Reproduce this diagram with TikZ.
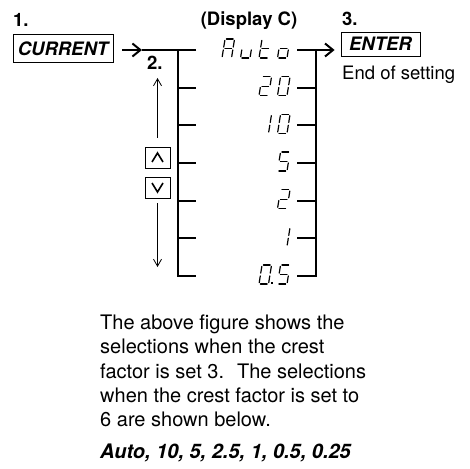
\documentclass[tikz,border=0pt]{standalone}
\usepackage{fontspec}
\setmainfont{TeX Gyre Heros}
\usetikzlibrary{arrows.meta}
\def\gsl{0.16}\def\gw{9.5}\def\gh{19}\def\gm{9.5}
\newcommand\segln[4]{\draw[segstyle] ({\gx+#1+\gsl*#2},{\gy-#2}) -- ({\gx+#3+\gsl*#4},{\gy-#4});}
\newcommand\SgA{\segln{0}{\gh}{\gw}{\gh}}
\newcommand\SgB{\segln{\gw}{\gh}{\gw}{\gm}}
\newcommand\SgC{\segln{\gw}{\gm}{\gw}{0}}
\newcommand\SgD{\segln{0}{0}{\gw}{0}}
\newcommand\SgE{\segln{0}{0}{0}{\gm}}
\newcommand\SgF{\segln{0}{\gm}{0}{\gh}}
\newcommand\SgG{\segln{0}{\gm}{\gw}{\gm}}
\newcommand\glyph[3]{\def\gx{#1}\def\gy{#2}#3}
\newcommand\DigZero{\SgA\SgB\SgC\SgD\SgE\SgF}
\newcommand\DigOne{\SgB\SgC}
\newcommand\DigTwo{\SgA\SgB\SgG\SgE\SgD}
\newcommand\DigFive{\SgA\SgF\SgG\SgC\SgD}
\tikzset{
 lbl/.style={inner sep=0, font=\fontsize{18.5}{22}\selectfont\bfseries},
 keybox/.style={draw, line width=0.8pt, inner sep=0, font=\fontsize{18.5}{22}\selectfont\bfseries\itshape},
 body/.style={inner sep=0, anchor=base west, font=\fontsize{20}{24}\selectfont},
 brk/.style={line width=2.2pt},
 bigarrow/.style={line width=2pt, -{Straight Barb[length=8pt,width=13pt]}},
 thinarrow/.style={line width=0.8pt, -{Straight Barb[length=7pt,width=8pt]}},
 segstyle/.style={line width=1.2pt, shorten <=1.4pt, shorten >=1.4pt, line cap=round},
 chev/.style={line width=1.6pt}
}
\begin{document}
\begin{tikzpicture}[x=1pt,y=-1pt]
\useasboundingbox (0,0) rectangle (470,468);
% labels
\node[lbl, anchor=base west] (n1) at (13,27) {1.};
\node[lbl, anchor=base] (disp) at (249,26) {(Display C)};
\node[lbl, anchor=base west] (n3) at (342,26) {3.};
\node[lbl, anchor=base west] (n2) at (147,70) {2.};
\node[keybox, minimum width=100, minimum height=28] (cur) at (63,48.5) {CURRENT};
\node[keybox, minimum width=79, minimum height=24] (enter) at (380.5,44) {ENTER};
\node[inner sep=0, anchor=base west, font=\fontsize{18.5}{22}\selectfont] (eos) at (342,80) {End of setting};
% level coordinates
\foreach \i/\yy in {1/50,2/87.67,3/125.33,4/163,5/200.67,6/238.33,7/276}{
  \coordinate (l\i) at (178,\yy);
  \coordinate (r\i) at (316,\yy);
}
% left bracket
\draw[brk, line join=miter] ([xshift=18pt]l1) -- (l1) -- (l7) -- ([xshift=18pt]l7);
\foreach \i in {2,...,6}{\draw[brk] (l\i) -- ([xshift=18pt]l\i);}
% right bracket
\draw[brk, line join=miter] ([xshift=-19pt]r1) -- (r1) -- (r7) -- ([xshift=-19pt]r7);
\foreach \i in {2,...,6}{\draw[brk] (r\i) -- ([xshift=-19pt]r\i);}
% main arrows
\coordinate (ltip) at (142,50);
\draw[bigarrow] ([xshift=9pt]cur.east |- l1) -- (ltip);
\draw[brk] (ltip) -- (l1);
\draw[bigarrow] (r1) -- ([xshift=-6pt]enter.west |- r1);
% up/down keys
\node[keybox, minimum width=25, minimum height=21] (up) at (157.5,157.5) {};
\node[keybox, minimum width=25, minimum height=21] (dn) at (157.5,187.5) {};
\draw[chev] ([xshift=-5.5pt,yshift=-4.5pt]up.center) -- ([yshift=4.5pt]up.center) -- ([xshift=5.5pt,yshift=-4.5pt]up.center);
\draw[chev] ([xshift=-5.5pt,yshift=4.5pt]dn.center) -- ([yshift=-4.5pt]dn.center) -- ([xshift=5.5pt,yshift=4.5pt]dn.center);
\coordinate (uptip) at (157.5,78);
\coordinate (dntip) at (157.5,267);
\draw[thinarrow] ([yshift=9pt]up.north) -- (uptip);
\draw[thinarrow] ([yshift=-5pt]dn.south) -- (dntip);
% seven segment display
\glyph{222}{58}{\SgA\SgB\SgC\SgE\SgF\SgG}
\glyph{240.5}{58}{\SgC\SgD\SgE}
\glyph{259}{58}{\SgD\SgE\SgF\SgG}
\glyph{277.5}{58}{\SgC\SgD\SgE\SgG}
\glyph{259}{95.67}{\DigTwo}
\glyph{277.5}{95.67}{\DigZero}
\glyph{259}{133.33}{\DigOne}
\glyph{277.5}{133.33}{\DigZero}
\glyph{277.5}{171}{\DigFive}
\glyph{277.5}{208.67}{\DigTwo}
\glyph{277.5}{246.33}{\DigOne}
\glyph{259}{284}{\DigZero}
\fill (271,284) rectangle (272.8,282.2);
\glyph{277.5}{284}{\DigFive}
% body text
\node[body] (t1) at (100,329) {The above figure shows the};
\node[body] (t2) at (100,353) {selections when the crest};
\node[body] (t3) at (100,378) {factor is set 3.~ The selections};
\node[body] (t4) at (100,402) {when the crest factor is set to};
\node[body] (t5) at (100,426) {6 are shown below.};
\node[body, font=\fontsize{20}{24}\selectfont\bfseries\itshape] (t6) at (100,458) {Auto, 10, 5, 2.5, 1, 0.5, 0.25};
\end{tikzpicture}
\end{document}
